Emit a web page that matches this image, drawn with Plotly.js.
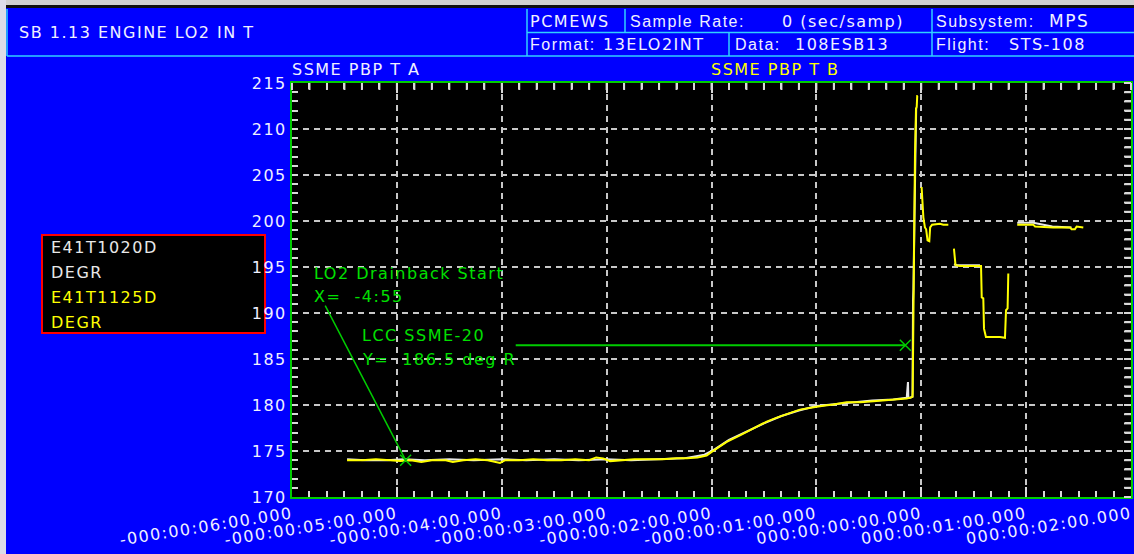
<!DOCTYPE html>
<html><head><meta charset="utf-8">
<script src="https://cdn.plot.ly/plotly-3.0.1.min.js"></script>
<style>
html,body{margin:0;padding:0;background:#0000ff;overflow:hidden;}
#chart{width:1134px;height:554px;}
svg text{letter-spacing:1.5px;}
</style></head><body><div id="chart"></div><script>
// ---- data (time in seconds relative to T0, temperature in deg R) ----
const tickVals = [-360, -300, -240, -180, -120, -60, 0, 60, 120];
const tickText = ["-000:00:06:00.000", "-000:00:05:00.000", "-000:00:04:00.000", "-000:00:03:00.000",
  "-000:00:02:00.000", "-000:00:01:00.000", "000:00:00:00.000", "000:00:01:00.000", "000:00:02:00.000"];
const yTickVals = [170, 175, 180, 185, 190, 195, 200, 205, 210, 215];

// SSME PBP T B (E41T1125D) - yellow
const timeB = [-328.5, -320, -312, -305, -298, -292, -286, -280, -272, -268, -262, -255, -248, -241, -238, -230, -222,
  -214, -206, -198, -190, -186, -182, -178, -172, -164, -156, -148, -140, -134, -128, -122.8, -119.9, -115, -111.3,
  -103.7, -98, -93, -88.4, -83, -78.9, -74, -69.4, -64, -59.8, -55, -50.3, -42.7, -35, -27.4, -20, -16, -10, -8.3,
  -6, -5, -4.9, -4.6, -4.0, -3.6, -3.0, -2.6, -2.3, -2.0, null,
  0.2, 0.8, 1.2, 2.1, 2.8, 3.6, 4.6, 5.1, 6.2, 10.7, 12.6, 15.5, null,
  18.7, 19.6, 22.1, 33.6, 34.2, 34.6, 35.5, 35.9, 37.0, 45.0, 47.9, 48.5, 49.4, 49.8, null,
  54.9, 64.1, 65.1, 75.5, 85.1, 86.0, 87.9, 88.9, 92.7];
const tempB = [174.0, 174.0, 174.1, 174.0, 173.9, 174.0, 173.8, 174.0, 174.0, 173.8, 174.0, 174.1, 174.0, 173.7, 174.0,
  174.0, 174.1, 174.0, 174.0, 174.1, 174.0, 174.3, 174.2, 173.9, 174.0, 174.1, 174.1, 174.1, 174.2, 174.2, 174.3,
  174.5, 174.9, 175.5, 176.0, 176.7, 177.25, 177.7, 178.2, 178.6, 178.9, 179.2, 179.5, 179.7, 179.8, 179.95, 180.05,
  180.3, 180.3, 180.4, 180.5, 180.6, 180.7, 180.7, 180.8, 180.9, 181.6, 190.0, 197.0, 207.0, 212.2, 212.4, 213.6,
  213.6, null,
  203.7, 200.6, 200.4, 199.3, 199.1, 197.9, 197.8, 199.3, 199.6, 199.7, 199.6, 199.6, null,
  197.0, 195.2, 195.1, 195.1, 195.1, 191.7, 191.6, 188.3, 187.4, 187.4, 187.3, 190.3, 190.5, 194.3, null,
  199.6, 199.6, 199.4, 199.3, 199.3, 199.1, 199.1, 199.4, 199.3];

// SSME PBP T A (E41T1020D) - white, mostly hidden under B
const timeA = [-328.5, -318, -306, -296, -284, -270, -256, -240, -226, -210, -196, -180, -166, -150, -136, -124,
  -118, -110, -100, -90, -80, -70, -60, -50, -40, -28, -16, -8.3, -7.6, -7.4, -6.5, -5, -4.7, -4.5, -3.5, -3.2,
  -2.9, null, 18.7, 20.5, 27, 33.6, null, 54.9, 64.1, 75, 86];
const tempA = [174.1, 174.0, 174.0, 174.1, 174.0, 174.1, 174.0, 174.1, 174.0, 174.1, 174.0, 174.1, 174.0, 174.1, 174.2,
  174.6, 175.2, 176.2, 177.1, 178.0, 178.8, 179.4, 179.9, 180.1, 180.3, 180.5, 180.6, 180.8, 182.5, 180.8, 180.8,
  180.9, 191.4, 192.5, 205.0, 212.0, 212.3, null, 195.3, 195.2, 195.2, 195.2, null, 199.8, 199.8, 199.4, 199.3];

// event markers
const drainbackTime = -295;      // X = -4:55
const drainbackTemp = 174.0;
const lccLimit = 186.5;          // LCC SSME-20 limit, deg R
const lccStart = -232, lccEnd = -9.1;

// axis extents / minor tick steps
const xRange = [-360, 120], yRange = [170, 215];
const xMinorStep = 10, yMinorStep = 1;

// ---- layout helpers (pixel -> paper) ----
const L = 292, T = 83, W = 839, H = 414;
const px = p => (p - L) / W;
const py = p => (T + H - p) / H;
const FONT = 'DejaVu Sans', FONT2 = 'Liberation Sans';
const CYAN = '#30d0ff', GREEN = '#00e000', YEL = '#ffff00', WHITE = '#f0f0ff';
const TICKC = '#d8d8d8';

function txt(text, x, y, color, family, size) {
  return {text: text, xref: 'paper', yref: 'paper', x: px(x), y: py(y), xanchor: 'left', yanchor: 'middle',
    showarrow: false, borderpad: 0, borderwidth: 0, font: {family: family || FONT, size: size || 16, color: color}};
}
function rect(x0, y0, x1, y1, fill, line, lw) {
  return {type: 'rect', xref: 'paper', yref: 'paper', x0: px(x0), x1: px(x1), y0: py(y0), y1: py(y1),
    fillcolor: fill || 'rgba(0,0,0,0)', line: {color: line || 'rgba(0,0,0,0)', width: lw || 0}, layer: 'below'};
}
function seg(x0, y0, x1, y1, color, lw) {
  return {type: 'line', xref: 'paper', yref: 'paper', x0: px(x0), x1: px(x1), y0: py(y0), y1: py(y1),
    line: {color: color, width: lw || 1.5}, layer: 'above'};
}

const traces = [
  {x: timeA, y: tempA, type: 'scatter', mode: 'lines', line: {color: '#e8e8e8', width: 2}, connectgaps: false, hoverinfo: 'skip'},
  {x: timeB, y: tempB, type: 'scatter', mode: 'lines', line: {color: YEL, width: 2}, connectgaps: false, hoverinfo: 'skip'},
  {x: [drainbackTime, lccEnd], y: [drainbackTemp, lccLimit], type: 'scatter', mode: 'markers',
   marker: {symbol: 'x-thin', size: 11, line: {color: '#00cc00', width: 1.5}, color: '#00cc00'}, hoverinfo: 'skip'}
];

const shapes = [
  rect(0, 0, 1134, 5, '#d0d0d0'),
  rect(0, 5, 1134, 8, '#101010'),
  rect(0, 0, 6, 554, '#dcdce8'),
  rect(42, 235, 265, 333, '#000000', '#ff0000', 2),
  seg(7, 9, 7, 56, CYAN), seg(7, 56, 1134, 56, CYAN),
  seg(527, 9, 527, 56, CYAN), seg(527, 32.5, 1134, 32.5, CYAN),
  seg(625, 9, 625, 32.5, CYAN), seg(729, 32.5, 729, 56, CYAN), seg(932, 9, 932, 56, CYAN),
  {type: 'line', xref: 'x', yref: 'y', x0: -341, y0: 190.8, x1: drainbackTime, y1: drainbackTemp,
   line: {color: '#00cc00', width: 1.5}, layer: 'above'},
  {type: 'line', xref: 'x', yref: 'y', x0: lccStart, y0: lccLimit, x1: lccEnd, y1: lccLimit,
   line: {color: '#00cc00', width: 2}, layer: 'above'}
];
// minor tick marks along the top and right frame edges (inside), in paper coordinates
for (let t = xRange[0]; t <= xRange[1]; t += xMinorStep) {
  const xp = (t - xRange[0]) / (xRange[1] - xRange[0]);
  shapes.push({type: 'line', xref: 'paper', yref: 'paper', x0: xp, x1: xp, y0: 1, y1: 1 - 7 / H,
    line: {color: TICKC, width: 2}, layer: 'above'});
}
for (let v = yRange[0]; v <= yRange[1]; v += yMinorStep) {
  const yp = (v - yRange[0]) / (yRange[1] - yRange[0]);
  shapes.push({type: 'line', xref: 'paper', yref: 'paper', x0: 1, x1: 1 - 7 / W, y0: yp, y1: yp,
    line: {color: TICKC, width: 2}, layer: 'above'});
}

const annotations = [
  txt('SB 1.13 ENGINE LO2 IN T', 19, 33, WHITE),
  txt('PCMEWS', 530, 21, WHITE),
  txt('Sample Rate:', 630, 21, WHITE, FONT2),
  txt('0 (sec/samp)', 782, 21, WHITE),
  txt('Subsystem:', 936, 21, WHITE, FONT2),
  txt('MPS', 1049, 21, WHITE, FONT, 17),
  txt('Format:', 530, 44, WHITE, FONT2),
  txt('13ELO2INT', 603, 44, WHITE),
  txt('Data:', 735, 44, WHITE, FONT2),
  txt('108ESB13', 795, 44, WHITE),
  txt('Flight:', 936, 44, WHITE, FONT2),
  txt('STS-108', 1009, 44, WHITE),
  txt('SSME PBP T A', 292, 69, WHITE),
  txt('SSME PBP T B', 711, 69, YEL),
  txt('E41T1020D', 51, 247, '#e8e8e8'),
  txt('DEGR', 51, 272, '#e8e8e8'),
  txt('E41T1125D', 51, 297, YEL),
  txt('DEGR', 51, 322, YEL),
  txt('LO2 Drainback Start', 314, 273, GREEN),
  txt('X=  -4:55', 314, 296, GREEN),
  txt('LCC SSME-20', 362, 335, GREEN),
  txt('Y=  186.5 deg R', 362, 359, GREEN)
];

const axisCommon = {
  ticks: 'inside', tickwidth: 2, tickcolor: TICKC,
  showline: true, linecolor: '#00cc00', linewidth: 2, mirror: 'allticks',
  showgrid: true, gridcolor: '#c8c8c8', gridwidth: 2, griddash: '6px,5px',
  zeroline: false, fixedrange: true,
  tickfont: {family: FONT, size: 16, color: WHITE}
};

const layout = {
  width: 1134, height: 554,
  margin: {l: L, r: 1134 - L - W, t: T, b: 554 - T - H, pad: 0},
  paper_bgcolor: '#0000ff', plot_bgcolor: '#000000',
  showlegend: false,
  font: {family: FONT, size: 16, color: WHITE},
  xaxis: Object.assign({}, axisCommon, {
    range: xRange.slice(), tickmode: 'array', tickvals: tickVals, ticktext: tickText,
    tickangle: -9, ticklen: 10, ticklabelstandoff: 0, ticklabelshift: 0, ticklabeloverflow: 'allow',
    minor: {dtick: xMinorStep, tick0: 0, ticks: 'inside', ticklen: 6, tickwidth: 2, tickcolor: TICKC, showgrid: false}
  }),
  yaxis: Object.assign({}, axisCommon, {
    range: yRange.slice(), tickmode: 'array', tickvals: yTickVals, ticklen: 6, ticklabelstandoff: 0,
    minor: {dtick: yMinorStep, tick0: 170, ticks: 'inside', ticklen: 6, tickwidth: 2, tickcolor: TICKC, showgrid: false}
  }),
  shapes: shapes,
  annotations: annotations
};

Plotly.newPlot('chart', traces, layout, {staticPlot: true, displayModeBar: false});
</script></body></html>
